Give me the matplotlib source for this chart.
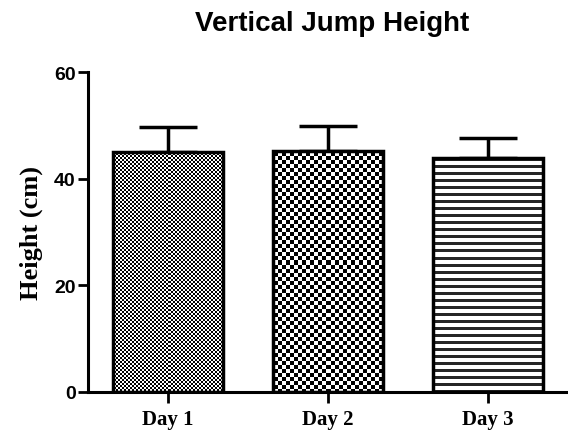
import numpy as np
import matplotlib
matplotlib.use("Agg")
import matplotlib.pyplot as plt

days = ["Day 1", "Day 2", "Day 3"]
height_mean = [45.0, 45.2, 43.9]
height_sd = [4.6, 4.6, 3.7]
y_ticks = [0, 20, 40, 60]

W, H = 568, 431
fig = plt.figure(figsize=(W / 100, H / 100), dpi=100)
# axes box on whole pixels so the pattern images are not resampled
ax = fig.add_axes([88 / W, 38 / H, 480 / W, 320 / H])
x = np.arange(len(days))

ax.set_xlim(-0.5, 2.5)
ax.set_ylim(0, 60)

# error bars first so the bar outline sits on top of the stem
ax.errorbar(x, height_mean, yerr=[np.zeros(len(x)), height_sd], fmt="none",
            ecolor="black", elinewidth=2.5, capsize=21, capthick=2.5, zorder=1)
# outline only, the fill patterns go underneath
bars = ax.bar(x, height_mean, width=0.69, facecolor="none", edgecolor="black",
              linewidth=2.5, zorder=3)


def texture(kind, w_px, h_px):
    i, j = np.mgrid[0:h_px, 0:w_px]
    if kind == "fine":
        img = ((i // 2 + j // 2) % 2).astype(float)
    elif kind == "coarse":
        img = ((i // 4 + j // 4) % 2).astype(float)
    else:
        # horizontal stripes, dark grey lines
        img = np.where(i % 7 >= 3, 1.0, 0.15)
    return img


# fill each bar with its pattern, clipped to the bar itself.
# extent is snapped to whole pixels as well
to_data = ax.transData.inverted()
for bar, kind in zip(bars, ["fine", "coarse", "stripes"]):
    x0, y0 = bar.get_x(), bar.get_y()
    x1, y1 = x0 + bar.get_width(), y0 + bar.get_height()
    (px0, py0), (px1, py1) = ax.transData.transform([(x0, y0), (x1, y1)])
    px0, py0 = np.floor(px0) - 2, np.floor(py0)
    px1, py1 = np.ceil(px1) + 2, np.ceil(py1) + 2
    (dx0, dy0), (dx1, dy1) = to_data.transform([(px0, py0), (px1, py1)])
    img = texture(kind, int(px1 - px0), int(py1 - py0))
    im = ax.imshow(img, cmap="gray", vmin=0, vmax=1, interpolation="nearest",
                   extent=(dx0, dx1, dy0, dy1), origin="lower", aspect="auto", zorder=2)
    im.set_clip_path(bar)

ax.set_xlim(-0.5, 2.5)
ax.set_ylim(0, 60)

for side in ["top", "right"]:
    ax.spines[side].set_visible(False)
for side in ["left", "bottom"]:
    ax.spines[side].set_linewidth(2.2)

ax.set_yticks(y_ticks)
ax.set_yticklabels([str(t) for t in y_ticks], fontfamily="Liberation Sans",
                   fontweight="bold", fontsize=14)
ax.set_xticks(x)
ax.set_xticklabels(days, fontfamily="Liberation Serif", fontweight="bold", fontsize=15)
ax.tick_params(axis="y", length=7, width=2, pad=2)
ax.tick_params(axis="x", length=8, width=2, pad=4)

ax.set_ylabel("Height (cm)", fontfamily="Liberation Serif", fontweight="bold",
              fontsize=19, labelpad=8)
fig.suptitle("Vertical Jump Height", x=0.585, y=0.975, fontfamily="Liberation Sans",
             fontweight="bold", fontsize=20)

fig.savefig("out.png", dpi=100)
